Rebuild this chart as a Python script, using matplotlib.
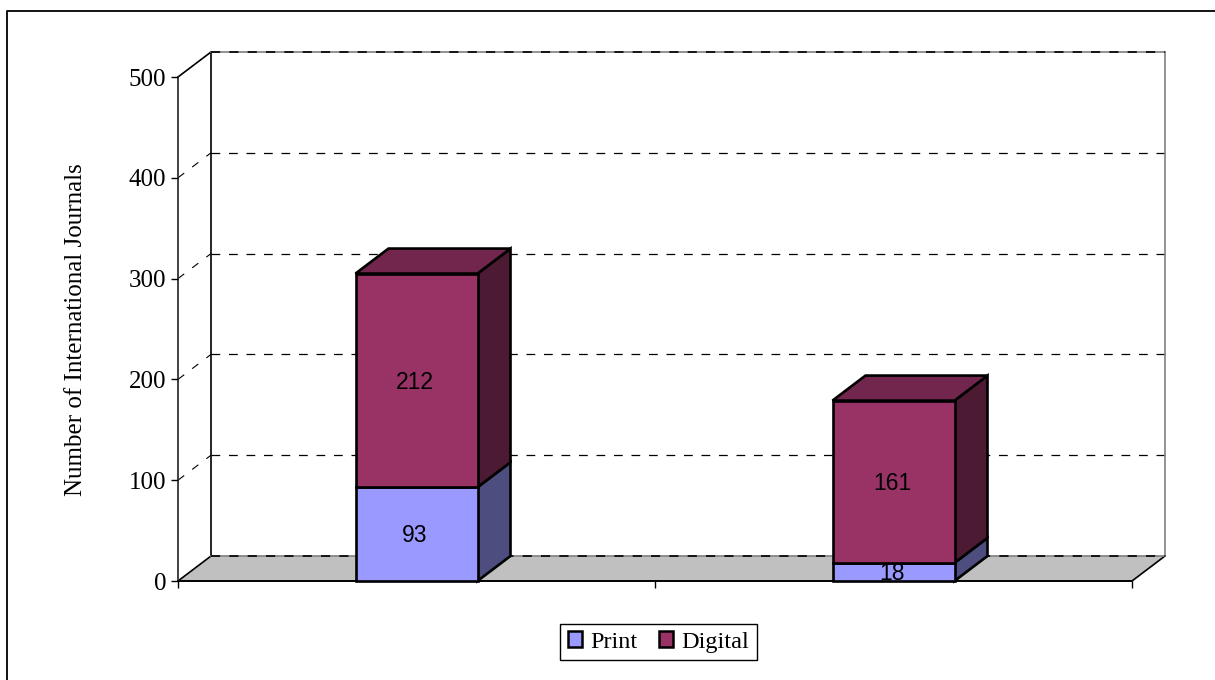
import matplotlib
matplotlib.use("Agg")
import matplotlib.pyplot as plt
from matplotlib.lines import Line2D
from matplotlib.patches import Patch, Polygon

# values
categories = [0, 1]
print_vals = [93, 18]
digital_vals = [212, 161]
y_ticks = [0, 100, 200, 300, 400, 500]
series_names = ["Print", "Digital"]

W, H = 1215, 680
SERIF = "Liberation Serif"
SANS = "Liberation Sans"

fig = plt.figure(figsize=(W / 100, H / 100), dpi=100)
ax = fig.add_axes([178 / W, 1 - 581 / H, (1132 - 178) / W, (581 - 77) / H])
ax.set_xlim(-0.5, 1.5)
ax.set_ylim(0, 500)

# 3d depth, in data units
dx = 33 / (954 / 2)
dy = 25 / (504 / 500)
bar_w = 122 / (954 / 2)


def poly(pts, fc, z, ec="black", lw=1.9):
    ax.add_patch(Polygon(pts, closed=True, facecolor=fc, edgecolor=ec, linewidth=lw,
                         joinstyle="miter", clip_on=False, zorder=z))


def shade(rgb, k):
    return tuple(c / 255 * k for c in rgb)


def bar_label(cat, y, val):
    ax.annotate(str(val), (cat, y), xytext=(-1, -1.2), textcoords="offset points",
                ha="center", va="center", fontsize=16.5, family=SANS, color="black",
                zorder=4, annotation_clip=False)


# floor
poly([(-0.5, 0), (1.5, 0), (1.5 + dx, dy), (-0.5 + dx, dy)], "#C0C0C0", 1, ec="none")
ax.plot([-0.5 + dx, -0.5, 1.5, 1.5 + dx], [dy, 0, 0, dy], color="black", lw=1.2,
        clip_on=False, zorder=1.2)

# grid on the back wall and the dashes on the side wall
for v in y_ticks:
    if v in (0, 500):
        continue
    ax.plot([-0.5 + dx, 1.5 + dx], [v + dy, v + dy], color="black", lw=0.9,
            dashes=(7, 7), clip_on=False, zorder=0.5)
    ax.plot([-0.5, -0.5 + dx], [v, v + dy], color="black", lw=0.8,
            dashes=(7, 9), clip_on=False, zorder=0.5)

# walls
ax.plot([-0.5, -0.5 + dx], [500, 500 + dy], color="black", lw=1.2, clip_on=False, zorder=1)
ax.plot([-0.5 + dx, -0.5 + dx], [dy, 500 + dy], color="black", lw=1.2, clip_on=False, zorder=1)
ax.plot([1.5 + dx, 1.5 + dx], [dy, 500 + dy], color="#808080", lw=1.2, clip_on=False, zorder=0.6)
# top and floor back edges: grey line with black dashes on it
for v in (500 + dy, dy):
    ax.plot([-0.5 + dx, 1.5 + dx], [v, v], color="#808080", lw=1.2, clip_on=False, zorder=1.3)
    ax.plot([-0.5 + dx, 1.5 + dx], [v, v], color="black", lw=1.2, dashes=(5.5, 5.5),
            clip_on=False, zorder=1.4)

print_rgb = (153, 153, 255)
digital_rgb = (153, 51, 102)

# stacked bars, each segment has a front, a side and (on the top one) a lid
for cat, p, d in zip(categories, print_vals, digital_vals):
    l = cat - bar_w / 2
    r = cat + bar_w / 2
    total = p + d
    for bottom, top, rgb in [(0, p, print_rgb), (p, total, digital_rgb)]:
        poly([(r, bottom), (r + dx, bottom + dy), (r + dx, top + dy), (r, top)],
             shade(rgb, 0.5), 2)
        poly([(l, bottom), (r, bottom), (r, top), (l, top)], shade(rgb, 1), 3)
    poly([(l, total), (r, total), (r + dx, total + dy), (l + dx, total + dy)],
         shade(digital_rgb, 0.75), 2)
    bar_label(cat, p / 2, p)
    bar_label(cat, p + d / 2, d)

# axes
for s in ["top", "right"]:
    ax.spines[s].set_visible(False)
ax.patch.set_visible(False)
ax.spines["left"].set_linewidth(1.3)
ax.spines["left"].set_color("#333333")
ax.spines["bottom"].set_linewidth(1.2)
ax.spines["left"].set_zorder(1.5)
ax.spines["bottom"].set_zorder(1.5)
ax.set_xticks([-0.5, 0.5, 1.5])
ax.set_xticklabels([])
ax.set_yticks(y_ticks)
ax.set_yticklabels([str(v) for v in y_ticks], family=SERIF, fontsize=18)
ax.tick_params(axis="both", length=5, width=1.0, pad=3.5)
ax.set_ylabel("Number of International Journals", family=SERIF, fontsize=18, va="center")
ax.yaxis.set_label_coords((76 - 178) / 954, (581 - 330) / 504)

# legend
handles = [Patch(facecolor=shade(print_rgb, 1), edgecolor="black", linewidth=1.8),
           Patch(facecolor=shade(digital_rgb, 1), edgecolor="black", linewidth=1.8)]
fig.legend(handles, series_names, loc="center", bbox_to_anchor=(658.5 / W, 1 - 642 / H),
           prop={"family": SERIF, "size": 17.5}, fancybox=False, framealpha=1,
           edgecolor="black", ncol=2, handlelength=0.58, handleheight=0.58,
           handletextpad=0.37, columnspacing=0.85, borderpad=0.32, borderaxespad=0)

# outer chart border, only left and top fall inside the picture
fig.add_artist(Line2D([7 / W, 7 / W, 1], [0, 1 - 11 / H, 1 - 11 / H], color="black", lw=1.3))

fig.savefig("out.png", dpi=100)
